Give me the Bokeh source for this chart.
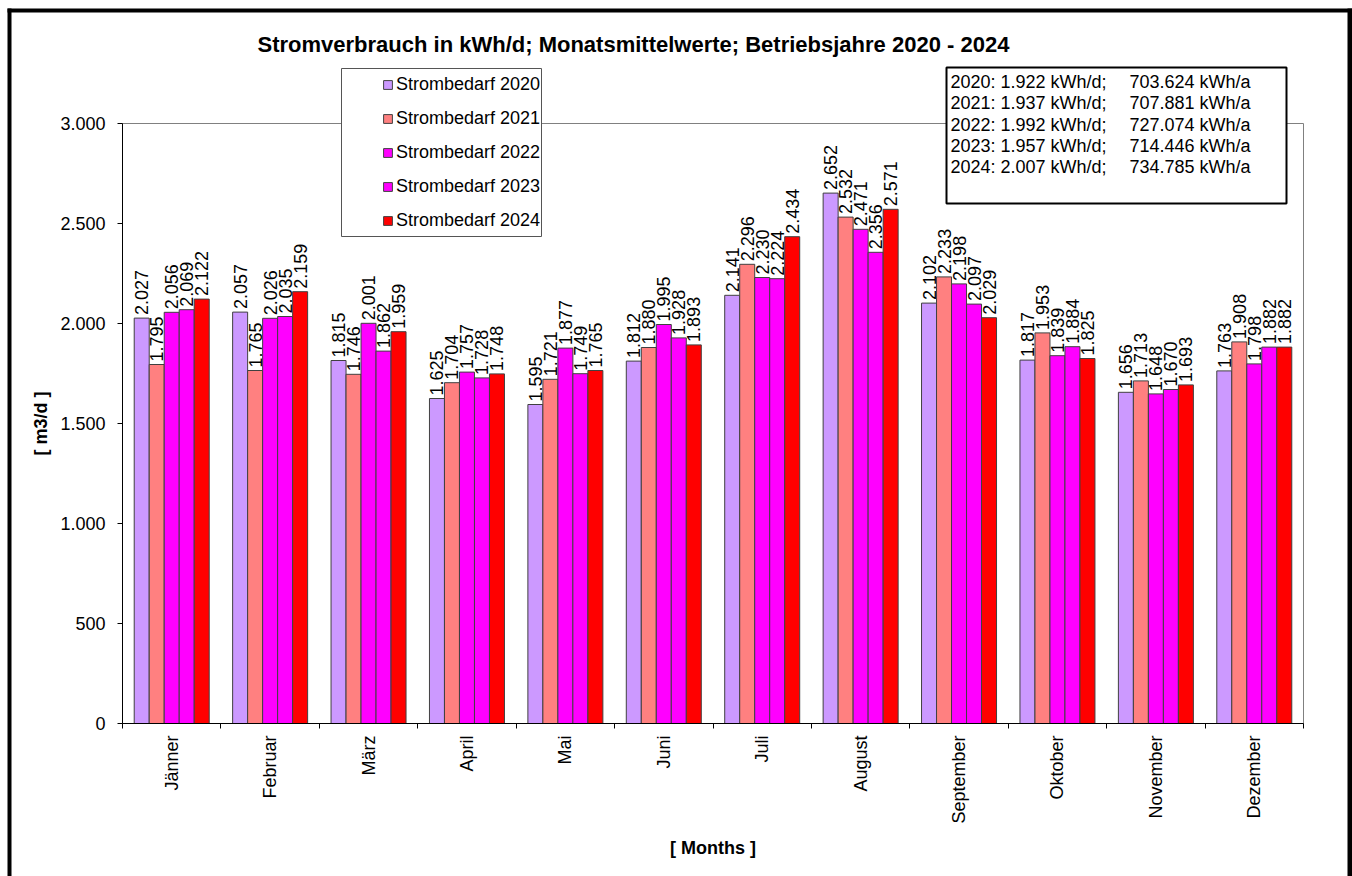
import math
from bokeh.plotting import figure
from bokeh.models import (ColumnDataSource, Range1d, FixedTicker, Legend, LegendItem,
                          Label, BoxAnnotation, LinearAxis)
from bokeh.embed import file_html
from bokeh.resources import INLINE

# ---------------- data ----------------
months = ["Jänner", "Februar", "März", "April", "Mai", "Juni", "Juli", "August",
          "September", "Oktober", "November", "Dezember"]
years = ["2020", "2021", "2022", "2023", "2024"]
s2020 = [2027, 2057, 1815, 1625, 1595, 1812, 2141, 2652, 2102, 1817, 1656, 1763]
s2021 = [1795, 1765, 1746, 1704, 1721, 1880, 2296, 2532, 2233, 1953, 1713, 1908]
s2022 = [2056, 2026, 2001, 1757, 1877, 1995, 2230, 2471, 2198, 1839, 1648, 1798]
s2023 = [2069, 2035, 1862, 1728, 1749, 1928, 2224, 2356, 2097, 1884, 1670, 1882]
s2024 = [2122, 2159, 1959, 1748, 1765, 1893, 2434, 2571, 2029, 1825, 1693, 1882]
series = [s2020, s2021, s2022, s2023, s2024]
colors = ["#CC99FF", "#FF8080", "#FF00FF", "#FF00FF", "#FF0000"]
daily = ["1.922", "1.937", "1.992", "1.957", "2.007"]
annual = ["703.624", "707.881", "727.074", "714.446", "734.785"]
y_ticks = [0, 500, 1000, 1500, 2000, 2500, 3000]
y_tick_labels = ["0", "500", "1.000", "1.500", "2.000", "2.500", "3.000"]

title = "Stromverbrauch in kWh/d; Monatsmittelwerte;  Betriebsjahre 2020 - 2024"

FONT = "Liberation Sans"
W, H = 1352, 876
# plot area in canvas pixels
PL, PR, PT, PB = 122, 1303, 123, 723
NX, YMAX = 12, 3000
ppu_x = (PR - PL) / NX          # pixels per month
ppu_y = (PB - PT) / YMAX        # pixels per unit


def px2x(px):
    return (px - PL) / ppu_x


def py2y(py):
    return (PB - py) / ppu_y


p = figure(width=W, height=H, output_backend="svg", toolbar_location=None, title=None,
           x_range=Range1d(px2x(0), px2x(W)), y_range=Range1d(py2y(H), py2y(0)),
           x_axis_location=None, y_axis_location=None,
           min_border=0, min_border_left=0, min_border_right=0,
           min_border_top=0, min_border_bottom=0,
           outline_line_color=None, background_fill_color="white",
           border_fill_color="white")
for g in p.grid:
    g.visible = False

# plot-area border (grey), under everything else
p.add_layout(BoxAnnotation(left=0, right=NX, bottom=0, top=YMAX, level="underlay",
                           fill_alpha=0, line_color="#808080", line_alpha=1.0,
                           line_width=1))

# axes
xa = LinearAxis(fixed_location=0, bounds=(0, NX))
xa.ticker = FixedTicker(ticks=[i + 0.5 for i in range(NX)], minor_ticks=list(range(NX + 1)))
xa.major_label_overrides = {i + 0.5: m for i, m in enumerate(months)}
xa.major_label_orientation = math.pi / 2
xa.major_tick_out = 0
xa.major_tick_in = 0
xa.minor_tick_out = 5
xa.minor_tick_in = 0
xa.minor_tick_line_color = "black"
xa.axis_line_color = "black"
xa.major_label_standoff = 7
xa.major_label_text_font = FONT
xa.major_label_text_font_size = "18px"
xa.major_label_text_color = "black"
p.add_layout(xa, "below")

ya = LinearAxis(fixed_location=0, bounds=(0, YMAX))
ya.ticker = FixedTicker(ticks=y_ticks, minor_ticks=[])
ya.major_label_overrides = {t: l for t, l in zip(y_ticks, y_tick_labels)}
ya.major_tick_out = 5
ya.major_tick_in = 0
ya.major_tick_line_color = "black"
ya.axis_line_color = "black"
ya.major_label_standoff = 12
ya.major_label_text_font = FONT
ya.major_label_text_font_size = "18px"
ya.major_label_text_color = "black"
p.add_layout(ya, "left")

# axis titles
p.add_layout(Label(x=NX / 2, y=py2y(847), text="[ Months ]", text_font=FONT,
                   text_font_size="18px", text_font_style="bold", text_align="center",
                   text_baseline="middle", text_color="black"))
p.add_layout(Label(x=px2x(40), y=YMAX / 2, text="[ m3/d ]", text_font=FONT,
                   text_font_size="18px", text_font_style="bold", text_align="center",
                   text_baseline="middle", text_color="black", angle=math.pi / 2))

# bars + value labels
bar_w = 15 / ppu_x
items = []
for k, (vals, col, yr) in enumerate(zip(series, colors, years)):
    xs = [i + 0.5 + (k - 2) * bar_w for i in range(NX)]
    src = ColumnDataSource(dict(x=xs, top=vals, lab=["%.3f" % (v / 1000) for v in vals]))
    r = p.vbar(x="x", top="top", width=bar_w, source=src, fill_color=col,
               line_color="#404040", line_width=1)
    p.text(x="x", y="top", text="lab", source=src, angle=math.pi / 2,
           text_align="left", text_baseline="middle", y_offset=-3,
           text_font_size="18px", text_color="black",
           text_font={"value": FONT})
    items.append(LegendItem(label="Strombedarf " + yr, renderers=[r]))

# legend box
p.add_layout(BoxAnnotation(left=px2x(341), right=px2x(541), top=py2y(68), bottom=py2y(236),
                           fill_color="white", fill_alpha=1.0,
                           line_color="#555555", line_alpha=1.0, line_width=1))
legend = Legend(items=items, location=(382, H - 232), orientation="vertical",
                glyph_width=11, glyph_height=11, label_standoff=3,
                label_height=24, spacing=10, padding=0, margin=0,
                border_line_color=None, background_fill_alpha=0,
                label_text_font=FONT, label_text_font_size="18px",
                label_text_color="black")
p.add_layout(legend)

# info box
p.add_layout(BoxAnnotation(left=px2x(946), right=px2x(1286), top=py2y(67), bottom=py2y(203),
                           fill_color="white", fill_alpha=1.0,
                           line_color="black", line_alpha=1.0, line_width=2))
for i, (yr, d, a) in enumerate(zip(years, daily, annual)):
    yy = py2y(81.7 + 21.25 * i)
    p.add_layout(Label(x=px2x(950), y=yy, text=f"{yr}: {d} kWh/d;", text_font=FONT,
                       text_font_size="18px", text_baseline="middle", text_align="left",
                       text_color="black"))
    p.add_layout(Label(x=px2x(1129), y=yy, text=f"{a} kWh/a", text_font=FONT,
                       text_font_size="18px", text_baseline="middle", text_align="left",
                       text_color="black"))

# title
p.add_layout(Label(x=px2x(636), y=py2y(44), text=title, text_font=FONT,
                   text_font_size="22px", text_font_style="bold",
                   text_align="center", text_baseline="middle", text_color="black"))

# outer thick frame (left, top, right)
for l, r_, t, b in [(7, 11, 8, H + 10), (7, W + 10, 8, 12), (1347, W + 10, 8, H + 10)]:
    p.add_layout(BoxAnnotation(left=px2x(l), right=px2x(r_), top=py2y(t), bottom=py2y(b),
                               fill_color="black", fill_alpha=1.0, line_color=None))

open("out.html", "w").write(file_html(p, INLINE))
